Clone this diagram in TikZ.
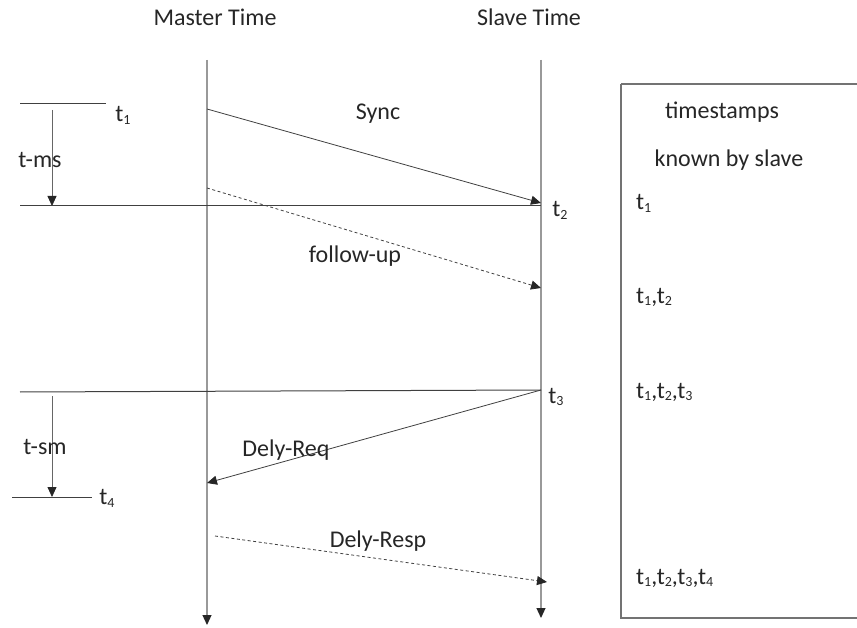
\documentclass[tikz,border=0pt]{standalone}
\usepackage{fontspec}
\setmainfont{Carlito}
\usetikzlibrary{arrows.meta}
\newcommand{\tsub}[1]{t\raisebox{-0.25ex}{\fontsize{14}{14}\selectfont #1}}
\begin{document}
\begin{tikzpicture}[x=1pt,y=-1pt,
  lbl/.style={font=\fontsize{24}{28}\selectfont, text=black!85, inner sep=0pt},
  tip/.style={-{Triangle[length=10pt,width=9pt,color=black!85]}},
  life/.style={draw=black!40, line width=1.2pt, tip},
  msg/.style={draw=black!75, line width=0.8pt, tip},
  dmsg/.style={msg, dash pattern=on 3pt off 2.5pt},
  hline/.style={draw=black!75, line width=1pt},
  tick/.style={draw=black!60, line width=0.8pt, tip}]
\useasboundingbox (0,0) rectangle (857,628);
% lifelines
\coordinate (mtop) at (207,60);
\coordinate (mbot) at (207,625);
\coordinate (stop) at (541,60);
\coordinate (sbot) at (541,618);
\draw[life] (mtop) -- (mbot);
\draw[life] (stop) -- (sbot);
\node[lbl] (mt) at (215,17) {Master Time};
\node[lbl] (st) at (529,17) {Slave Time};
% t1
\coordinate (t1a) at (20,104);
\coordinate (t1b) at (106,104);
\draw[hline] (t1a) -- (t1b);
\node[lbl] (t1) at (123,115) {\tsub{1}};
\coordinate (msa) at (52,110);
\coordinate (msb) at (52,206);
\draw[tick] (msa) -- (msb);
\node[lbl] (tms) at (40,160) {t-ms};
% t2 line
\coordinate (t2a) at (20,206);
\coordinate (t2b) at (541,206);
\draw[hline] (t2a) -- (t2b);
\node[lbl] (t2) at (560,210) {\tsub{2}};
% sync
\coordinate (sy1) at (207,109);
\coordinate (sy2) at (541,203);
\draw[msg] (sy1) -- (sy2);
\node[lbl] (sync) at (378,114) {Sync};
% follow-up
\coordinate (fu1) at (207,188);
\coordinate (fu2) at (541,288);
\draw[dmsg] (fu1) -- (fu2);
\node[lbl] (fu) at (355,256) {follow-up};
% t3 line
\coordinate (t3a) at (20,392);
\coordinate (t3b) at (541,390);
\draw[hline] (t3a) -- (t3b);
\node[lbl] (t3) at (556,397) {\tsub{3}};
% dely-req
\coordinate (dr1) at (541,390);
\coordinate (dr2) at (207,483);
\draw[msg] (dr1) -- (dr2);
\node[lbl] (dreq) at (286,450) {Dely-Req};
% t-sm
\coordinate (sma) at (52,396);
\coordinate (smb) at (52,497);
\draw[tick] (sma) -- (smb);
\node[lbl] (tsm) at (45,447) {t-sm};
\coordinate (t4a) at (12,497);
\coordinate (t4b) at (92,497);
\draw[hline] (t4a) -- (t4b);
\node[lbl] (t4) at (107,498) {\tsub{4}};
% dely-resp
\coordinate (rs1) at (215,536);
\coordinate (rs2) at (547,582);
\draw[dmsg] (rs1) -- (rs2);
\node[lbl] (dresp) at (378,541) {Dely-Resp};
% box
\draw[draw=black!55, line width=1.2pt] (621,84) -- (621,618) -- (870,618);
\draw[draw=black!55, line width=1.2pt] (621,84) -- (870,84);
\node[lbl] (ts) at (722,112) {timestamps};
\node[lbl] (kbs) at (729,160) {known by slave};
\node[lbl, anchor=west] (k1) at (636,203) {\tsub{1}};
\node[lbl, anchor=west] (k2) at (636,297) {\tsub{1},\tsub{2}};
\node[lbl, anchor=west] (k3) at (636,392) {\tsub{1},\tsub{2},\tsub{3}};
\node[lbl, anchor=west] (k4) at (636,578) {\tsub{1},\tsub{2},\tsub{3},\tsub{4}};
\end{tikzpicture}
\end{document}
